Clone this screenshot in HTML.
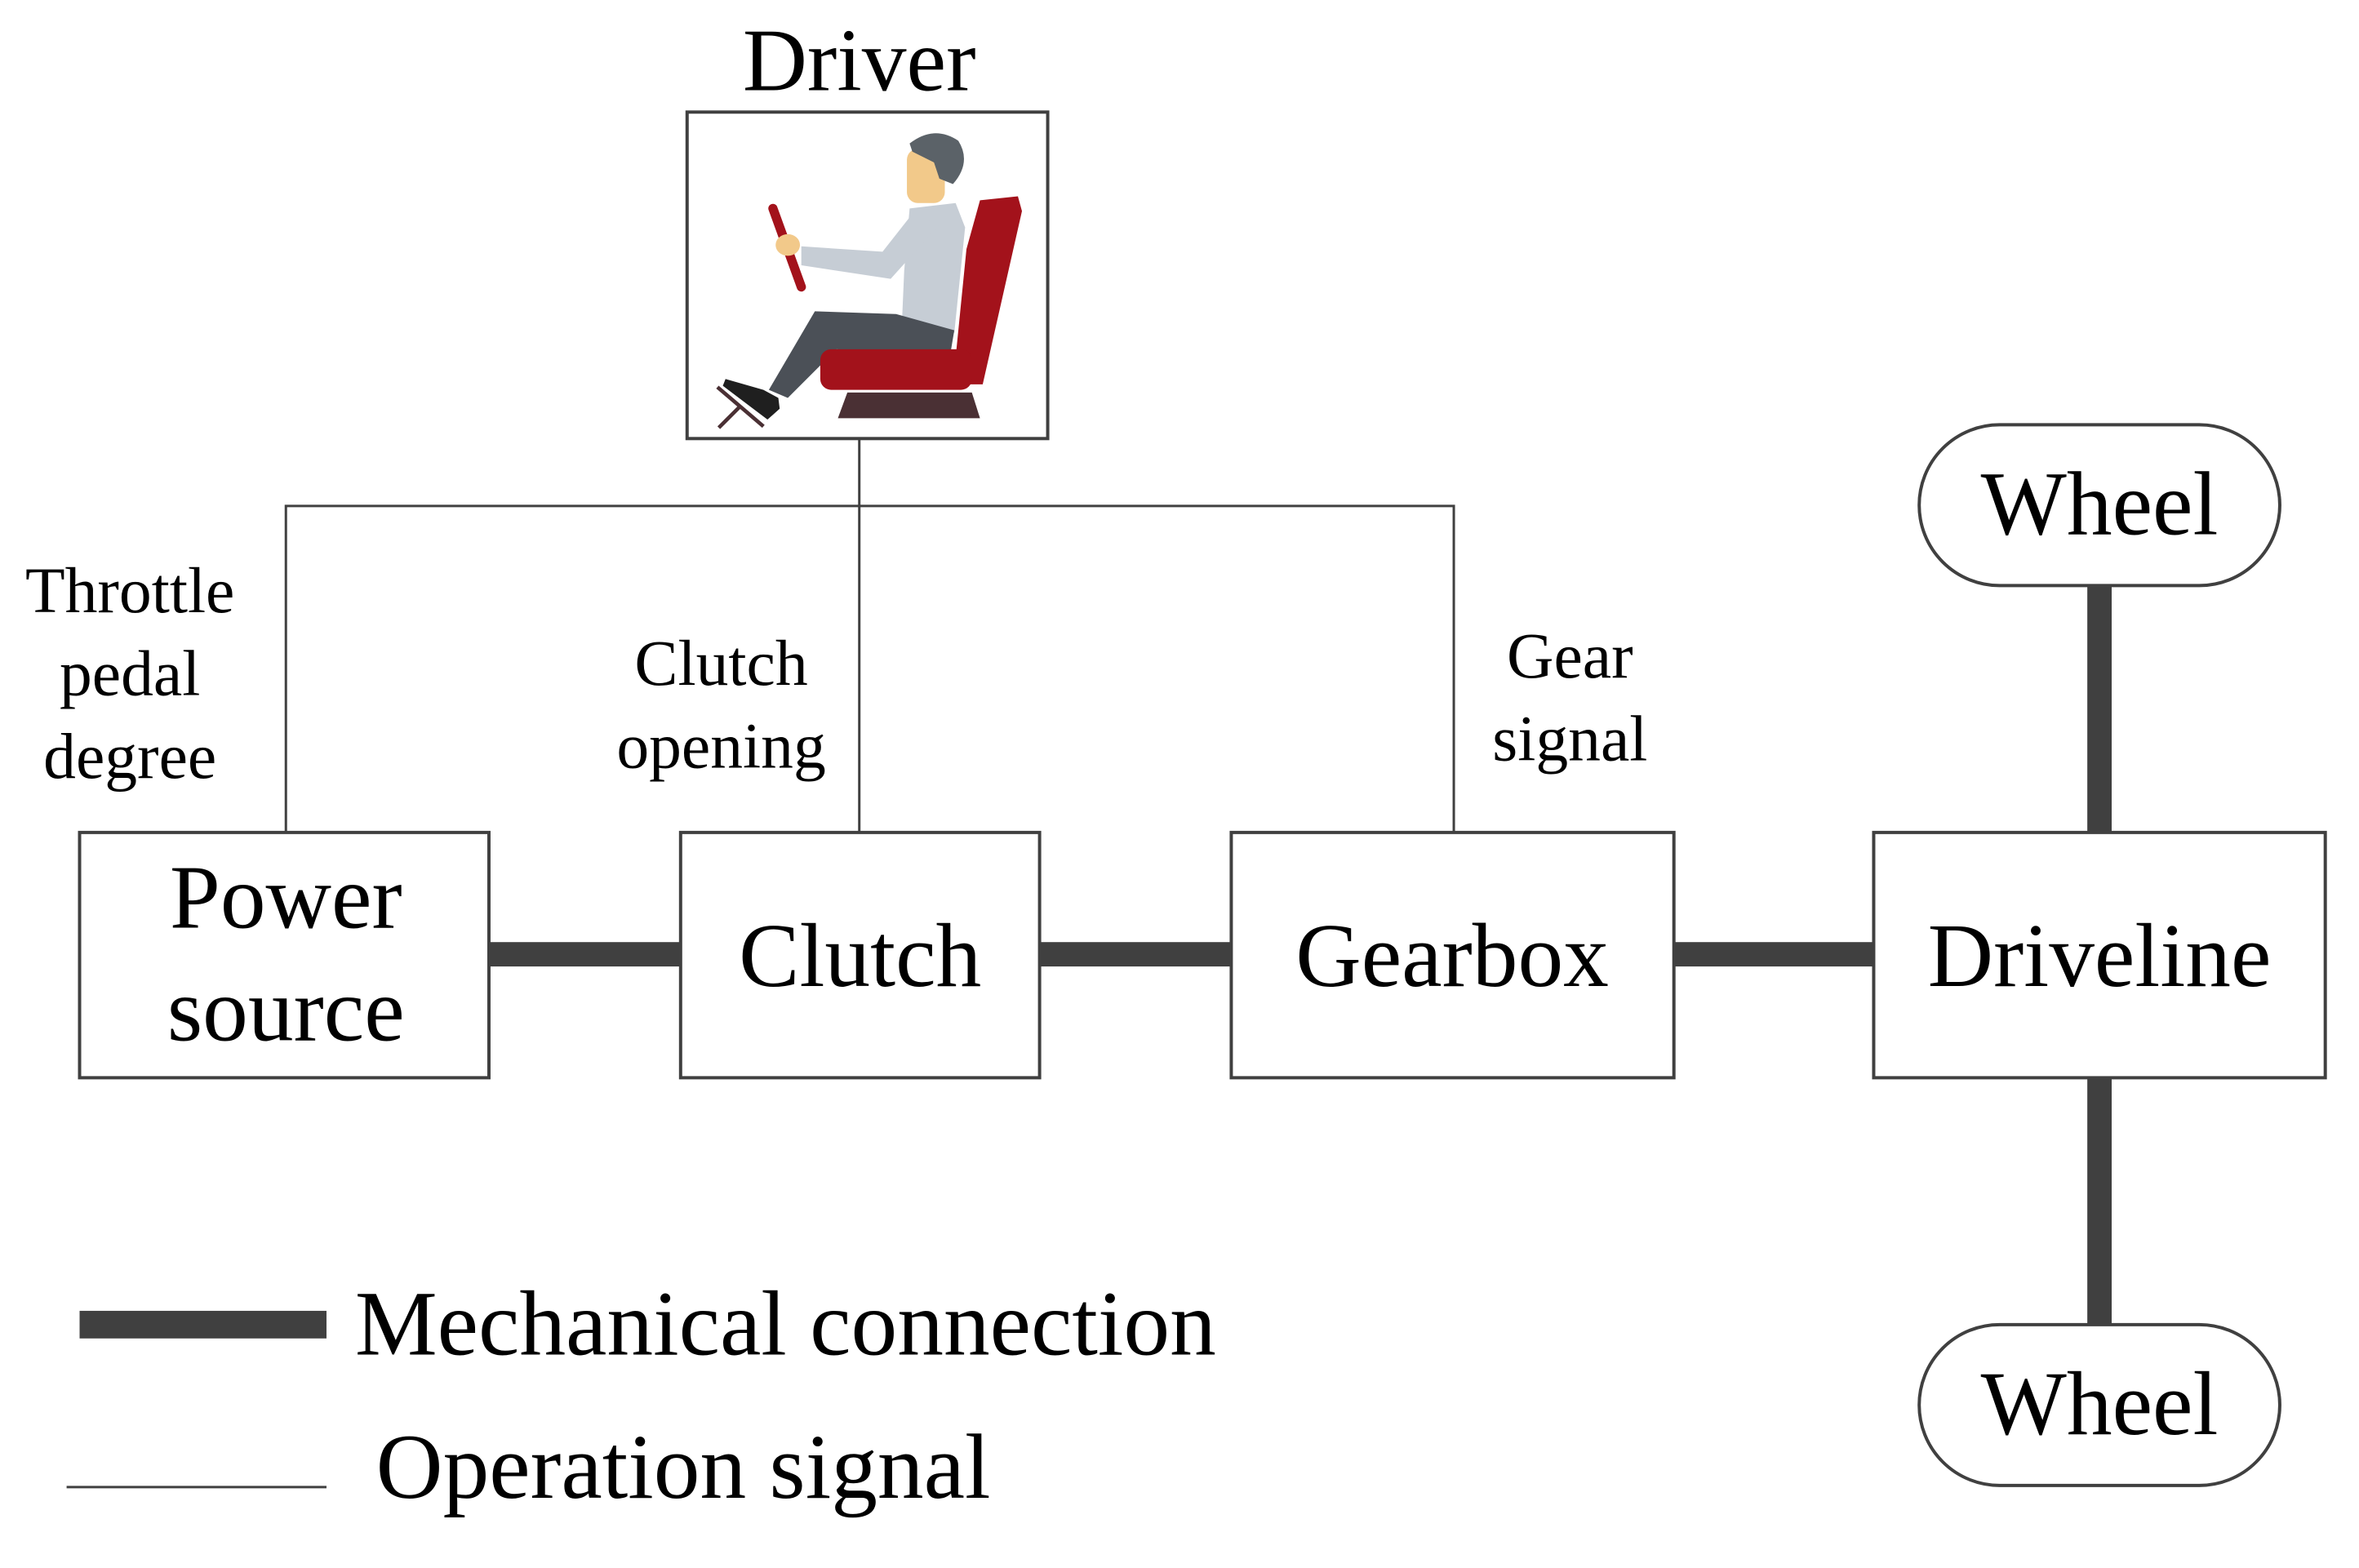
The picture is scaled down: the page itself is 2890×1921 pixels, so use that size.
<!DOCTYPE html>
<html><head><meta charset="utf-8"><style>
html,body{margin:0;padding:0;background:#fff;}
svg{display:block;}
text{font-family:"Liberation Serif",serif;fill:#000;}
</style></head><body>
<svg width="2890" height="1921" viewBox="0 0 2890 1921" xmlns="http://www.w3.org/2000/svg">
<rect width="2890" height="1921" fill="#fff"/>
<g transform="scale(0.995)">
<!-- Driver -->
<text x="1058" y="111" font-size="110" text-anchor="middle">Driver</text>
<rect x="846" y="138" width="444" height="402" fill="#fff" stroke="#404040" stroke-width="4"/>
<g transform="translate(830,120) scale(0.3333)">
  <polygon points="1130,380 1270,365 1285,420 1140,1060 1030,1060 1080,560" fill="#a3121b"/>
  <polygon points="640,1090 1100,1090 1130,1185 605,1185" fill="#4a3034"/>
  <polygon points="870,410 1040,390 1075,480 1035,870 840,870 850,640" fill="#c6cdd5"/>
  <polygon points="470,550 770,570 880,430 980,470 800,670 470,620" fill="#c6cdd5"/>
  <rect x="860" y="190" width="140" height="200" rx="40" fill="#f2c98a"/>
  <path d="M870,170 Q960,100 1050,160 Q1100,240 1030,320 L980,300 L960,240 L880,200 Z" fill="#5b6268"/>
  <line x1="365" y1="410" x2="470" y2="700" stroke="#a3121b" stroke-width="34" stroke-linecap="round"/>
  <ellipse cx="420" cy="545" rx="45" ry="40" fill="#f2c98a"/>
  <polygon points="520,790 820,800 1035,860 1020,950 600,930 420,1110 350,1080" fill="#4b5057"/>
  <rect x="540" y="930" width="560" height="150" rx="40" fill="#a3121b"/>
  <polygon points="190,1040 330,1080 385,1110 390,1150 345,1190 180,1065" fill="#1f1f1f"/>
  <line x1="160" y1="1070" x2="330" y2="1215" stroke="#4a3034" stroke-width="14"/>
  <line x1="165" y1="1220" x2="245" y2="1140" stroke="#4a3034" stroke-width="14"/>
</g>
<g stroke="#404040" stroke-width="3" fill="none">
  <line x1="1058" y1="540" x2="1058" y2="1025"/>
  <polyline points="352,1025 352,623 1790,623 1790,1025"/>
  <line x1="82" y1="1831" x2="402" y2="1831"/>
</g>
<g fill="#404040">
  <rect x="602" y="1160" width="236" height="30"/>
  <rect x="1280" y="1160" width="236" height="30"/>
  <rect x="2061" y="1160" width="246" height="30"/>
  <rect x="2570" y="721" width="30" height="304"/>
  <rect x="2570" y="1327" width="30" height="304"/>
  <rect x="98" y="1614" width="304" height="34"/>
</g>
<g fill="#fff" stroke="#404040" stroke-width="4">
  <rect x="98" y="1025" width="504" height="302"/>
  <rect x="838" y="1025" width="442" height="302"/>
  <rect x="1516" y="1025" width="545" height="302"/>
  <rect x="2307" y="1025" width="556" height="302"/>
  <rect x="2363" y="523" width="444" height="198" rx="99"/>
  <rect x="2363" y="1631" width="444" height="198" rx="99"/>
</g>
<g font-size="112" text-anchor="middle">
  <text x="352" y="1142">Power</text>
  <text x="352" y="1281">source</text>
  <text x="1059" y="1214">Clutch</text>
  <text x="1788" y="1214">Gearbox</text>
  <text x="2585" y="1214">Driveline</text>
  <text x="2585" y="658">Wheel</text>
  <text x="2585" y="1766">Wheel</text>
</g>
<g font-size="80" text-anchor="middle">
  <text x="160" y="754">Throttle</text>
  <text x="160" y="856">pedal</text>
  <text x="160" y="958">degree</text>
  <text x="888" y="843">Clutch</text>
  <text x="888" y="945">opening</text>
  <text x="1933" y="834">Gear</text>
  <text x="1933" y="936">signal</text>
</g>
<g font-size="114">
  <text x="437" y="1668">Mechanical connection</text>
  <text x="463" y="1844">Operation signal</text>
</g>
</g>
</svg>
</body></html>
